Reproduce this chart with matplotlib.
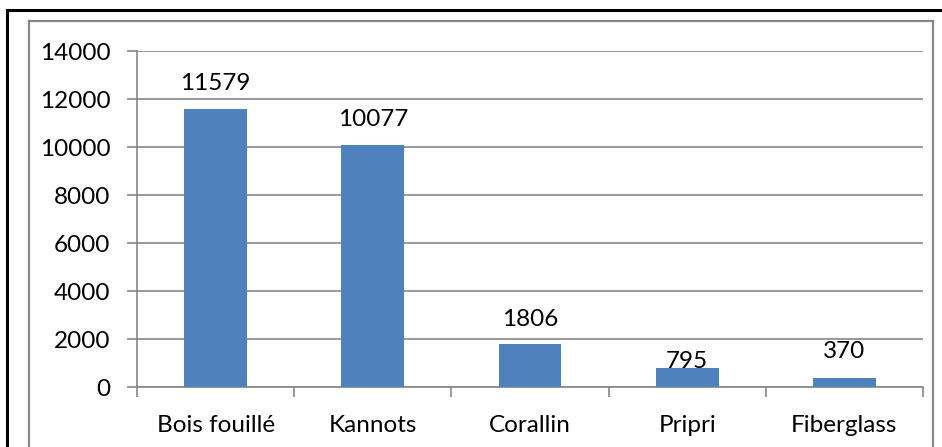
import matplotlib
matplotlib.use("Agg")
import matplotlib.pyplot as plt
from matplotlib.lines import Line2D
import numpy as np

plt.rcParams['font.family'] = ['Lato', 'DejaVu Sans']

# données
categories = ['Bois fouillé', 'Kannots', 'Corallin', 'Pripri', 'Fiberglass']
valeurs = [11579, 10077, 1806, 795, 370]

W, H = 942, 447
fig = plt.figure(figsize=(W / 100, H / 100), dpi=100)
ax = fig.add_axes([137 / W, 60 / H, (923 - 137) / W, (387 - 51) / H])

x = np.arange(len(categories))
ax.bar(x, valeurs, width=0.4, color='#4F81BD', zorder=3)

# étiquettes de valeurs (le 795 est collé à la barre dans l'original)
decalage = [19, 19, 18, 0, 20]
for xi, v, d in zip(x, valeurs, decalage):
    ax.annotate(str(v), (xi, v), xytext=(0, d * 0.72 - 3), textcoords='offset points',
                ha='center', va='bottom', fontsize=17.5, color='black', zorder=4)

ax.set_xlim(-0.5, len(categories) - 0.5)
ax.set_ylim(0, 14000)
ax.set_yticks(np.arange(0, 14001, 2000))
ax.yaxis.grid(True, color='#868686', linewidth=1.2, zorder=0)
ax.set_axisbelow(True)

ax.set_xticks(x)
ax.set_xticklabels(categories, fontsize=17.5)
ax.set_xticks(np.arange(-0.5, len(categories)), minor=True)
ax.tick_params(axis='x', which='major', length=0, pad=20)
ax.tick_params(axis='x', which='minor', length=7, width=1.2, color='#868686', direction='out')
ax.tick_params(axis='y', length=7, width=1.2, color='#868686', direction='out', labelsize=17.5, pad=12)

for s in ['top', 'right']:
    ax.spines[s].set_visible(False)
for s in ['left', 'bottom']:
    ax.spines[s].set_color('#868686')
    ax.spines[s].set_linewidth(1.2)

# cadres extérieurs
def px(xp, yp):
    return xp / W, 1 - yp / H

for (x0, y0), (x1, y1), c, lw in [
    ((7, 10), (W + 5, 10), 'black', 2.2),
    ((7, 10), (7, H + 5), 'black', 2.2),
    ((29, 21), (933, 21), '#868686', 1.6),
    ((29, 21), (29, H + 5), '#868686', 1.6),
    ((933, 21), (933, H + 5), '#868686', 1.6),
]:
    a, b = px(x0, y0)
    c2, d2 = px(x1, y1)
    fig.add_artist(Line2D([a, c2], [b, d2], transform=fig.transFigure, color=c, linewidth=lw))

fig.savefig('out.png', dpi=100)
